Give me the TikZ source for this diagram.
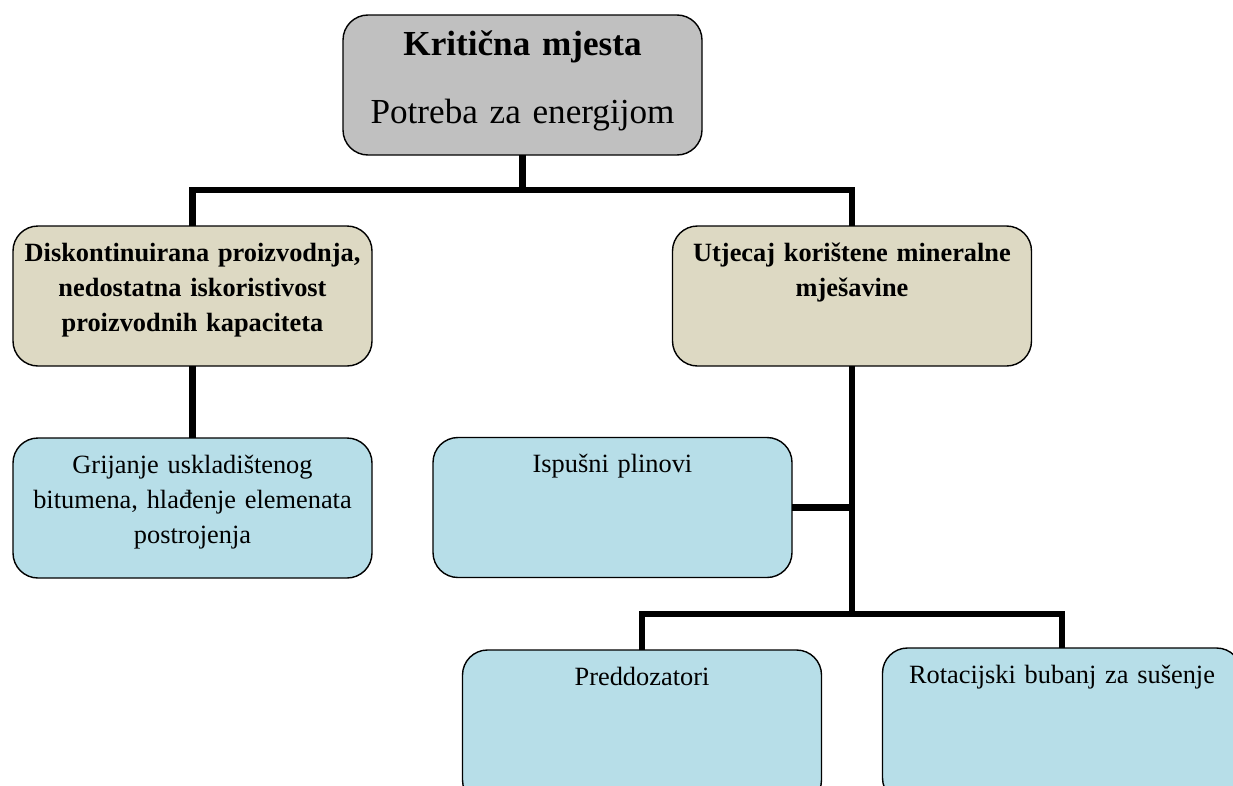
\documentclass[tikz,border=0pt]{standalone}
\usepackage{fontspec}
\setmainfont{Liberation Serif}
\usepackage{tikz}
\usepackage{xcolor}
\usetikzlibrary{positioning,calc}
\definecolor{boxgray}{HTML}{C0C0C0}
\definecolor{boxtan}{HTML}{DDD9C3}
\definecolor{boxblue}{HTML}{B7DEE8}
\tikzset{
  box/.style={draw=black,line width=0.8pt,rounded corners=0.5cm,
              align=center,inner xsep=0.1cm,inner ysep=0pt,outer sep=0pt,
              text width=6.98cm,text height=0.70cm,text depth=2.10cm,
              font=\fontsize{15}{20}\selectfont},
  headbox/.style={box,fill=boxgray,text height=0.80cm,text depth=2.00cm,
                  font=\fontsize{20}{24}\selectfont},
  midbox/.style={box,fill=boxtan,font=\fontsize{15}{20}\selectfont\bfseries},
  leafbox/.style={box,fill=boxblue},
  cutbox/.style={leafbox,anchor=north,text depth=2.40cm},
  conn/.style={draw=black,line width=3.7pt}
}
\begin{document}
\begin{tikzpicture}[x=1cm,y=1cm]
    \useasboundingbox (0,0) rectangle (24.66,-15.70);
    \clip (0,0) rectangle (24.66,-15.70);
    \node[headbox] (krit) at (10.45,-1.70)
      {\textbf{Kritična mjesta}\\[15pt]Potreba za energijom};
    \node[midbox] (disk) at (3.85,-5.92)
      {Diskontinuirana proizvodnja,\\nedostatna iskoristivost\\proizvodnih kapaciteta};
    \node[midbox] (utj) at (17.04,-5.92)
      {Utjecaj korištene mineralne\\mješavine};
    \node[leafbox] (grij) at (3.85,-10.16)
      {Grijanje uskladištenog\\bitumena, hlađenje elemenata\\postrojenja};
    \node[leafbox] (isp) at (12.25,-10.15) {Ispušni plinovi};
    \node[cutbox] (pred) at (12.84,-13.00) {Preddozatori};
    \node[cutbox] (rot) at (21.24,-12.96) {Rotacijski bubanj za sušenje};

    \coordinate (bus) at (10.45,-3.80);
    \coordinate (bus2) at (17.04,-12.28);
    \draw[conn] (krit.south) -- (bus);
    \draw[conn] (disk.north) |- (bus) -| (utj.north);
    \draw[conn] (disk.south) -- (grij.north);
    \draw[conn] (utj.south) -- (bus2);
    \draw[conn] (isp.east) -- (isp.east -| utj.south);
    \draw[conn] (pred.north) |- (bus2) -| (rot.north);
\end{tikzpicture}
\end{document}
